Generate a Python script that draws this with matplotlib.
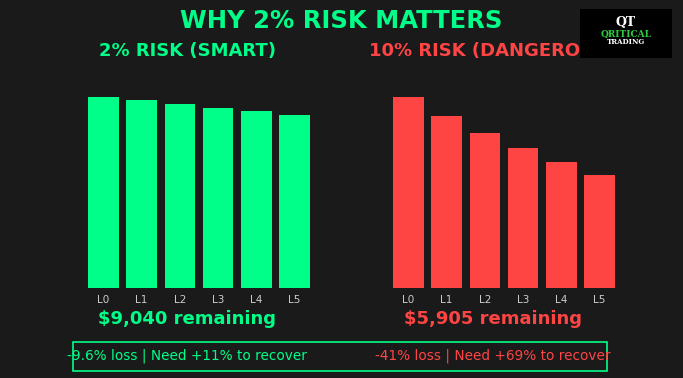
import matplotlib
matplotlib.use('Agg')
import matplotlib.pyplot as plt
from matplotlib.patches import Rectangle

# Account balance after each consecutive loss (start $10,000)
levels = ['L0', 'L1', 'L2', 'L3', 'L4', 'L5']
smart_balance = [10000, 9800, 9604, 9412, 9224, 9040]
danger_balance = [10000, 9000, 8100, 7290, 6561, 5905]

smart_left = '$9,040 remaining'
danger_left = '$5,905 remaining'
smart_note = '-9.6% loss | Need +11% to recover'
danger_note = '-41% loss | Need +69% to recover'

BG = '#1a1a1a'
GREEN = '#00ff88'
RED = '#ff4444'

fig = plt.figure(figsize=(6.83, 3.78), dpi=100, facecolor=BG)

W, H = 683.0, 378.0


def add_panel(left_px, values, color):
    # axes placed in pixel coords, converted to figure fractions
    ax = fig.add_axes([left_px / W, (H - 288) / H, 244 / W, 201 / H])
    ax.set_facecolor(BG)
    ax.bar(levels, values, color=color, width=0.8)
    ax.set_ylim(0, 10500)
    ax.set_yticks([])
    for s in ax.spines.values():
        s.set_visible(False)
    ax.tick_params(axis='x', colors='#cccccc', labelsize=7.5, length=0, pad=5)
    return ax


add_panel(77, smart_balance, GREEN)
add_panel(382, danger_balance, RED)

fig.text(0.5, 1 - 21 / H, 'WHY 2% RISK MATTERS', color=GREEN, fontsize=17.5,
         fontweight='bold', ha='center', va='center')
fig.text(187.5 / W, 1 - 51 / H, '2% RISK (SMART)', color=GREEN, fontsize=13,
         fontweight='bold', ha='center', va='center')
fig.text(492 / W, 1 - 51 / H, '10% RISK (DANGEROUS)', color=RED, fontsize=13,
         fontweight='bold', ha='center', va='center')

fig.text(187.5 / W, 1 - 319 / H, smart_left, color=GREEN, fontsize=13,
         fontweight='bold', ha='center', va='center')
fig.text(492.5 / W, 1 - 319 / H, danger_left, color=RED, fontsize=13,
         fontweight='bold', ha='center', va='center')

# bottom box with recovery notes
fig.patches.append(Rectangle((73 / W, 1 - 371 / H), 534 / W, 29 / H,
                             transform=fig.transFigure, fill=False,
                             edgecolor=GREEN, linewidth=1.2))
fig.text(187 / W, 1 - 356 / H, smart_note, color=GREEN, fontsize=9.8,
         ha='center', va='center')
fig.text(493 / W, 1 - 356 / H, danger_note, color=RED, fontsize=9.8,
         ha='center', va='center')

# logo block
fig.patches.append(Rectangle((580 / W, 1 - 58 / H), 92 / W, 49 / H,
                             transform=fig.transFigure, facecolor='black',
                             edgecolor='none', zorder=5))
fig.text(626 / W, 1 - 23 / H, 'QT', color='white', fontsize=9, family='serif',
         fontweight='bold', ha='center', va='center', zorder=6)
fig.text(626 / W, 1 - 34 / H, 'QRITICAL', color='#2ecc40', fontsize=6.5,
         family='serif', fontweight='bold', ha='center', va='center', zorder=6)
fig.text(626 / W, 1 - 42 / H, 'TRADING', color='white', fontsize=5,
         family='serif', fontweight='bold', ha='center', va='center', zorder=6)

fig.savefig('out.png', dpi=100, facecolor=BG)
